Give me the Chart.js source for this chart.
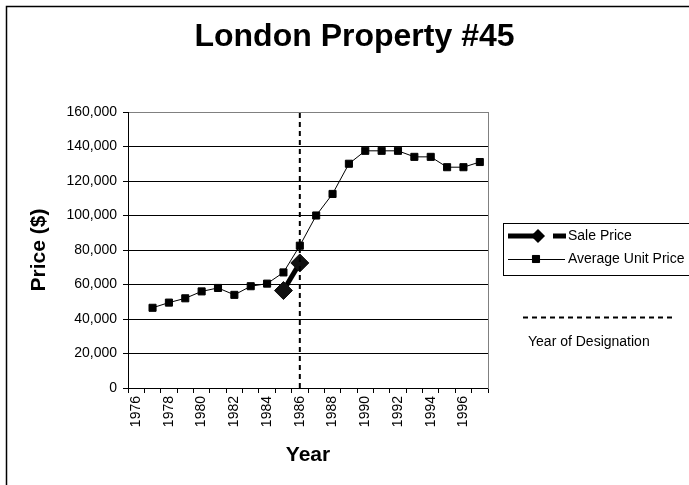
<!DOCTYPE html>
<html>
<head>
<meta charset="utf-8">
<script src="https://cdn.jsdelivr.net/npm/chart.js@4/dist/chart.umd.min.js"></script>
<style>
  html, body { margin: 0; padding: 0; background: #fff; }
  #wrap { position: relative; width: 689px; height: 485px; overflow: hidden; }
</style>
</head>
<body>
<div id="wrap"><canvas id="c" width="689" height="485"></canvas></div>
<script>
// ---- data ----
const years = ['1976','1977','1978','1979','1980','1981','1982','1983','1984','1985','1986',
               '1987','1988','1989','1990','1991','1992','1993','1994','1995','1996','1997'];
const averageUnitPrice = [null, 46500, 49500, 52000, 56000, 58000, 54000, 59000, 60500, 67000, 82500,
                          100000, 112500, 130000, 137500, 137500, 137500, 134000, 134000, 128000, 128000, 131000];
const salePrice = [null, null, null, null, null, null, null, null, null, 56500, 72500,
                   null, null, null, null, null, null, null, null, null, null, null];
const designationYear = '1986';
const designationSpan = [0, 160000];
const yMin = 0, yMax = 160000, yStep = 20000;
const chartTitle = 'London Property #45';
const seriesNames = ['Sale Price', 'Average Unit Price', 'Year of Designation'];

const FONT = "'Liberation Sans', Arial, sans-serif";

const framePlugin = {
  id: 'frame',
  beforeDraw(chart) {
    const ctx = chart.ctx;
    ctx.save();
    ctx.fillStyle = '#fff';
    ctx.fillRect(0, 0, chart.width, chart.height);
    ctx.strokeStyle = '#000';
    ctx.lineWidth = 1.5;
    ctx.strokeRect(6.5, 6.5, 2000, 2000);
    ctx.restore();
  }
};

const legendPlugin = {
  id: 'customLegend',
  afterDraw(chart) {
    const ctx = chart.ctx;
    const ds = chart.data.datasets;
    ctx.save();
    // legend box
    ctx.strokeStyle = '#000';
    ctx.lineWidth = 1;
    ctx.strokeRect(503.5, 223.5, 400, 52);
    ctx.font = '14px ' + FONT;
    ctx.fillStyle = '#000';
    ctx.textBaseline = 'middle';
    ctx.textAlign = 'left';
    // Sale Price entry
    let y = 236;
    ctx.strokeStyle = '#000';
    ctx.lineWidth = ds[0].borderWidth;
    ctx.beginPath(); ctx.moveTo(508, y); ctx.lineTo(536, y); ctx.stroke();
    ctx.beginPath(); ctx.moveTo(553, y); ctx.lineTo(566, y); ctx.stroke();
    Chart.helpers.drawPoint(ctx, {pointStyle: 'rectRot', radius: 3.5, borderWidth: 1, rotation: 0}, 538, y);
    ctx.fill();
    ctx.fillText(ds[0].label, 568, y);
    // Average Unit Price entry
    y = 259;
    ctx.lineWidth = ds[1].borderWidth;
    ctx.beginPath(); ctx.moveTo(508, y + 0.5); ctx.lineTo(565, y + 0.5); ctx.stroke();
    ctx.fillStyle = '#000';
    Chart.helpers.drawPoint(ctx, {pointStyle: 'rect', radius: ds[1].pointRadius, borderWidth: 1, rotation: 0}, 536, y);
    ctx.fill();
    ctx.fillText(ds[1].label, 568, y);
    // Year of designation
    ctx.lineWidth = ds[2].borderWidth;
    ctx.setLineDash(ds[2].borderDash);
    ctx.beginPath(); ctx.moveTo(523, 317.5); ctx.lineTo(673, 317.5); ctx.stroke();
    ctx.setLineDash([]);
    ctx.fillText(ds[2].label, 528, 342);
    ctx.restore();
  }
};

new Chart(document.getElementById('c'), {
  type: 'line',
  data: {
    labels: years,
    datasets: [
      {
        label: seriesNames[0],
        data: salePrice,
        borderColor: '#000',
        backgroundColor: '#111',
        borderWidth: 5,
        pointStyle: 'rectRot',
        pointRadius: 9,
        pointBackgroundColor: '#111',
        pointBorderColor: '#111',
        pointBorderWidth: 1,
        spanGaps: false,
        order: 1
      },
      {
        label: seriesNames[1],
        data: averageUnitPrice,
        borderColor: '#000',
        backgroundColor: '#000',
        borderWidth: 1,
        pointStyle: 'rect',
        pointRadius: 5,
        pointBackgroundColor: '#000',
        pointBorderColor: '#000',
        pointBorderWidth: 1,
        order: 2
      },
      {
        label: seriesNames[2],
        data: designationSpan.map(v => ({x: designationYear, y: v})),
        borderColor: '#000',
        borderWidth: 2,
        borderDash: [5, 4],
        pointRadius: 0,
        order: 0
      }
    ]
  },
  options: {
    responsive: false,
    animation: false,
    devicePixelRatio: 1,
    layout: { padding: { left: 20, right: 0, top: 0, bottom: 0 } },
    plugins: {
      legend: { display: false },
      tooltip: { enabled: false },
      title: {
        display: true,
        text: chartTitle,
        color: '#000',
        font: { family: FONT, size: 32, weight: 'bold', lineHeight: 1.2 },
        padding: { top: 18.1, bottom: 55.5 }
      }
    },
    scales: {
      x: {
        type: 'category',
        offset: true,
        grid: { offset: true, drawOnChartArea: false, drawTicks: true, tickLength: 5, color: '#000', lineWidth: 1 },
        border: { color: '#000', width: 1 },
        ticks: {
          autoSkip: false, maxRotation: 90, minRotation: 90, padding: 3,
          color: '#000', font: { family: FONT, size: 14 },
          callback: (v, i) => (i % 2 === 0 ? years[i] : '')
        },
        title: {
          display: true, text: 'Year', color: '#000',
          font: { family: FONT, size: 21, weight: 'bold', lineHeight: 1.2 },
          padding: { top: 0, bottom: 17.4 }
        },
        afterFit: s => { s.height = 97; }
      },
      y: {
        min: yMin, max: yMax,
        grid: {
          color: c => (c.tick && c.tick.value === yMax ? '#808080' : '#000'),
          tickColor: '#000', lineWidth: 1, tickLength: 5
        },
        border: { color: '#000', width: 1 },
        ticks: {
          stepSize: yStep, padding: 6, color: '#000',
          font: { family: FONT, size: 14 },
          callback: v => v.toLocaleString('en-US')
        },
        title: {
          display: true, text: 'Price ($)', color: '#000',
          font: { family: FONT, size: 21, weight: 'bold', lineHeight: 1.2 },
          padding: { top: 6.9, bottom: 0 }
        },
        afterFit: s => { s.width = 108; }
      },
      y2: {
        position: 'right',
        display: true,
        grid: { display: true, drawOnChartArea: false, drawTicks: false },
        border: { color: '#808080', width: 1 },
        ticks: { display: false },
        afterFit: s => { s.width = 201; }
      }
    }
  },
  plugins: [framePlugin, legendPlugin]
});
</script>
</body>
</html>
